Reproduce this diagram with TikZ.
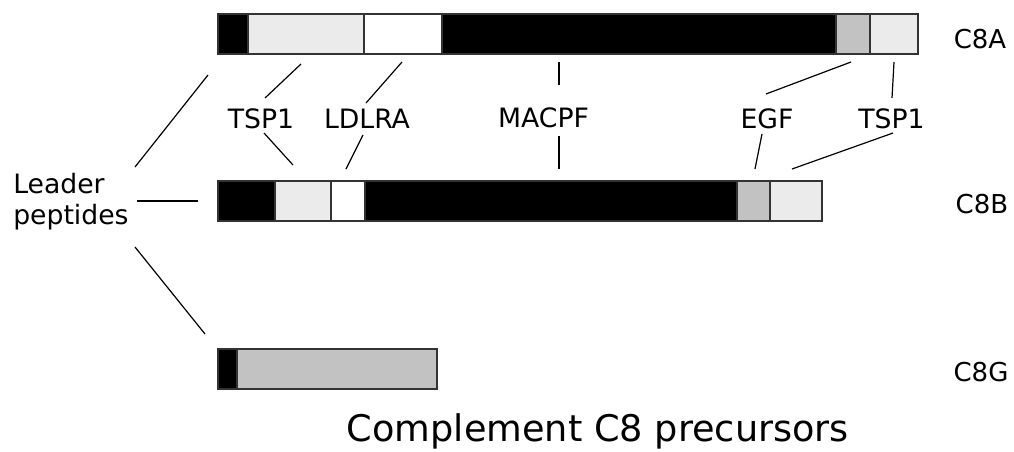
\documentclass[tikz,border=0pt]{standalone}
\usepackage{fontspec}
\setmainfont{DejaVu Sans}
\definecolor{lgray}{HTML}{EBEBEB}
\definecolor{mgray}{HTML}{C2C2C2}
\definecolor{edge}{HTML}{333333}
\begin{document}
\begin{tikzpicture}[x=0.75pt,y=-0.75pt,
  seg/.style={draw=edge, line width=1.1pt},
  conn/.style={draw=black, line width=0.9pt},
  lab/.style={font=\fontsize{20}{24}\selectfont, inner sep=0pt, anchor=base},
  pname/.style={font=\fontsize{19.5}{24}\selectfont, inner sep=0pt, anchor=base},
  ttl/.style={font=\fontsize{27.5}{33}\selectfont, inner sep=0pt, anchor=base}]
\useasboundingbox (0,0) rectangle (1014,451);

% C8A
\path[seg, fill=black] (218,14) rectangle (248,54);
\path[seg, fill=lgray] (248,14) rectangle (364,54);
\path[seg, fill=white] (364,14) rectangle (442,54);
\path[seg, fill=black] (442,14) rectangle (836,54);
\path[seg, fill=mgray] (836,14) rectangle (870,54);
\path[seg, fill=lgray] (870,14) rectangle (918,54);
\path[seg] (218,14) rectangle (918,54);

% C8B
\path[seg, fill=black] (218,181) rectangle (275,221);
\path[seg, fill=lgray] (275,181) rectangle (331,221);
\path[seg, fill=white] (331,181) rectangle (365,221);
\path[seg, fill=black] (365,181) rectangle (737,221);
\path[seg, fill=mgray] (737,181) rectangle (770,221);
\path[seg, fill=lgray] (770,181) rectangle (822,221);
\path[seg] (218,181) rectangle (822,221);

% C8G
\path[seg, fill=black] (218,349) rectangle (237,389);
\path[seg, fill=mgray] (237,349) rectangle (437,389);
\path[seg] (218,349) rectangle (437,389);

% protein names
\node[pname] (c8a) at (980,48) {C8A};
\node[pname] (c8b) at (982,213) {C8B};
\node[pname] (c8g) at (981,381) {C8G};

% domain labels
\node[lab] (tspl) at (261,128) {TSP1};
\node[lab] (ldlra) at (367,128) {LDLRA};
\node[lab] (macpf) at (543.5,127) {MACPF};
\node[lab] (egf) at (767,128) {EGF};
\node[lab] (tspr) at (891.5,128) {TSP1};
\node[lab, anchor=base west, align=left, font=\fontsize{20}{23.25}\selectfont] (lead) at (13,224) {Leader\\peptides};

\node[ttl] (title) at (598,441) {Complement C8 precursors};

% connector end points
\coordinate (a1) at (301,64);  \coordinate (a2) at (265,98);
\coordinate (b1) at (402,62);  \coordinate (b2) at (366,103);
\coordinate (a3) at (264,133); \coordinate (a4) at (293,165);
\coordinate (b3) at (363,135); \coordinate (b4) at (346,169);
\coordinate (m1) at (559,62);  \coordinate (m2) at (559,85);
\coordinate (m3) at (559,136); \coordinate (m4) at (559,169);
\coordinate (e1) at (851,62);  \coordinate (e2) at (766,94);
\coordinate (e3) at (762,134); \coordinate (e4) at (755,169);
\coordinate (t1) at (894,62);  \coordinate (t2) at (892,98);
\coordinate (t3) at (893,133); \coordinate (t4) at (792,169);
\coordinate (l1) at (208,75);  \coordinate (l2) at (135,167);
\coordinate (l3) at (137,201); \coordinate (l4) at (198,201);
\coordinate (l5) at (135,247); \coordinate (l6) at (205,334);

\draw[conn] (a1) -- (a2);
\draw[conn] (b1) -- (b2);
\draw[conn] (a3) -- (a4);
\draw[conn] (b3) -- (b4);
\draw[conn] (m1) -- (m2);
\draw[conn] (m3) -- (m4);
\draw[conn] (e1) -- (e2);
\draw[conn] (e3) -- (e4);
\draw[conn] (t1) -- (t2);
\draw[conn] (t3) -- (t4);
\draw[conn] (l1) -- (l2);
\draw[conn] (l3) -- (l4);
\draw[conn] (l5) -- (l6);
\end{tikzpicture}
\end{document}
